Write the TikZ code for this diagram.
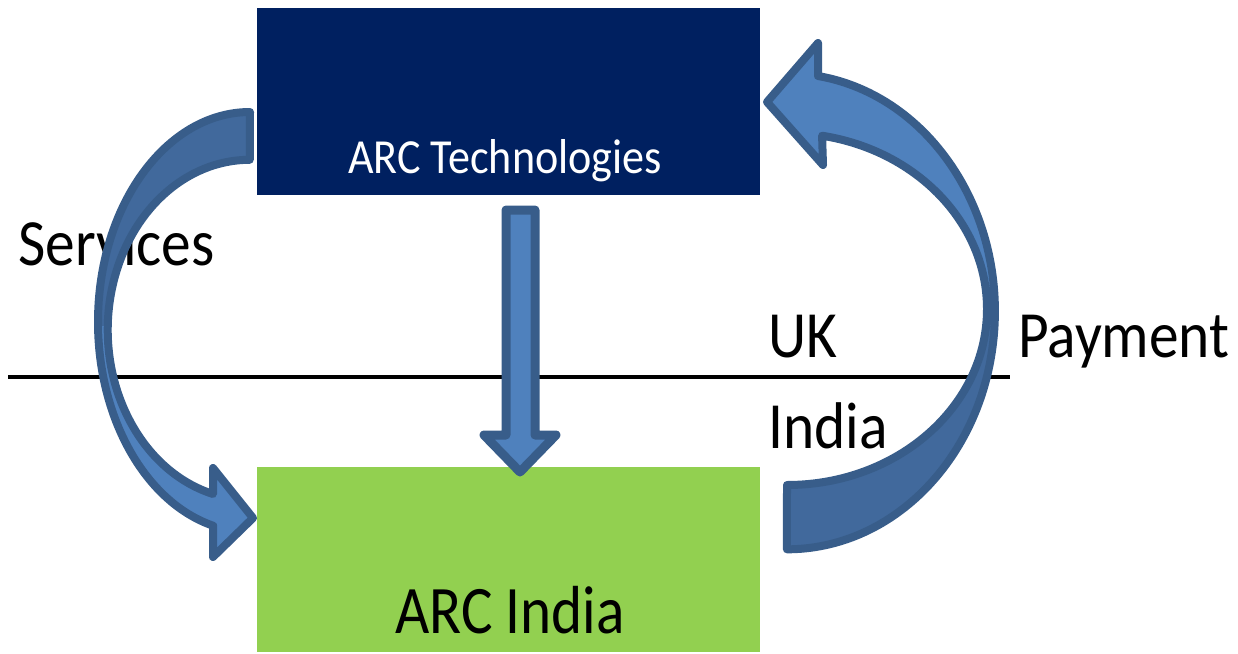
\documentclass[tikz,border=0pt]{standalone}
\usepackage{fontspec}
\setmainfont{Carlito}
\definecolor{navy}{HTML}{002060}
\definecolor{grn}{HTML}{92D050}
\definecolor{afill}{HTML}{4F81BD}
\definecolor{adark}{HTML}{41699C}
\definecolor{aedge}{HTML}{385D8A}
\newcommand{\sxb}[1]{\scalebox{0.9}[1]{#1}}
\begin{document}
\begin{tikzpicture}[x=1pt,y=1pt,
  lbl/.style={inner sep=0pt, anchor=base west, font=\fontsize{66}{72}\selectfont, text=black},
  box/.style={minimum width=503pt, inner sep=0pt, draw=none},
  arrowedge/.style={draw=aedge, line width=8pt, line join=round},
  divider/.style={line width=4pt, black}]
\useasboundingbox (0,0) rectangle (1238,-653);

% divider line
\coordinate (L) at (8,-377);
\coordinate (R) at (1010,-377);
\draw[divider] (L) -- (R);

% labels
\node[lbl] (services) at (18,-265) {\sxb{Services}};
\node[lbl] (uk) at (768,-357) {\sxb{UK}};
\node[lbl] (india) at (768,-448) {\sxb{India}};
\node[lbl] (payment) at (1018,-357) {\sxb{Payment}};

% boxes
\node[box, fill=navy, minimum height=187pt] (tech) at (508.5,-101.5) {};
\node[box, fill=grn, minimum height=185pt] (arcin) at (508.5,-559.5) {};
\node[inner sep=0pt, anchor=base, text=white, font=\fontsize{49}{55}\selectfont] (techtxt) at (505,-173) {\sxb{ARC Technologies}};
\node[inner sep=0pt, anchor=base, text=black, font=\fontsize{68}{74}\selectfont] (arcintxt) at (510,-633) {\scalebox{0.87}[1]{ARC India}};

% straight down arrow (tech -> ARC India)
\path[fill=afill, arrowedge, line width=9pt]
  (506,-210) -- (535,-210) -- (535,-435) -- (556,-435) -- (520,-472)
  -- (484,-435) -- (506,-435) -- cycle;

% left curved arrow (Services)
\def\leftarrowpath{(250,-112) arc[start angle=90, end angle=256, x radius=152, y radius=210]
  -- (213,-557) -- (253,-518) -- (213,-468) -- (213,-494)
  arc[start angle=255, end angle=90, x radius=142, y radius=170] -- cycle}
\fill[afill] \leftarrowpath;
\begin{scope}
  \clip (0,0) rectangle (300,-325);
  \fill[adark] \leftarrowpath;
\end{scope}
\draw[arrowedge] \leftarrowpath;

% right curved arrow (Payment)
\def\rightarrowpath{(818,-76) arc[start angle=81.4, end angle=-90, x radius=208, y radius=238]
  -- (787,-485) arc[start angle=-90, end angle=79.9, x radius=200, y radius=176]
  -- (823,-165) -- (767,-102) -- (818,-43) -- cycle}
\fill[afill] \rightarrowpath;
\begin{scope}
  \clip (700,-305) rectangle (1100,-653);
  \fill[adark] \rightarrowpath;
\end{scope}
\draw[arrowedge] \rightarrowpath;
\end{tikzpicture}
\end{document}
